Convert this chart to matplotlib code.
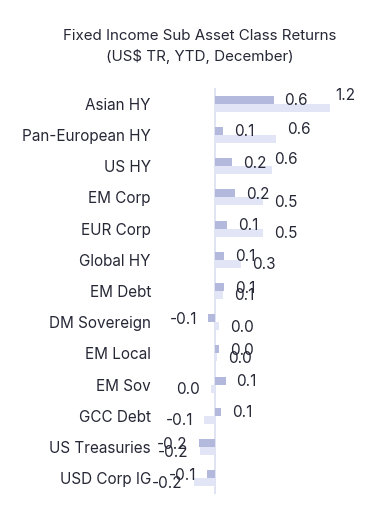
import numpy as np
import matplotlib
matplotlib.use("Agg")
import matplotlib.pyplot as plt

# Data
categories = ["Asian HY", "Pan-European HY", "US HY", "EM Corp", "EUR Corp",
              "Global HY", "EM Debt", "DM Sovereign", "EM Local", "EM Sov",
              "GCC Debt", "US Treasuries", "USD Corp IG"]
returns_dark = [0.61, 0.08, 0.18, 0.21, 0.13, 0.09, 0.09, -0.07, 0.04, 0.11, 0.06, -0.17, -0.08]
returns_light = [1.20, 0.64, 0.59, 0.50, 0.50, 0.27, 0.08, 0.04, 0.02, -0.04, -0.11, -0.16, -0.22]

# label nudges (pixels) for the light series where labels were pushed to avoid overlap
light_nudge = {0: (-6, 13.5), 1: (0, 10), 2: (-9, 11.5)}

dark_color = "#b3b9dd"
light_color = "#e1e5f6"
text_color = "#262836"
font = ["Inter", "DejaVu Sans"]
plt.rcParams["font.family"] = font

W, H = 380, 522
fig = plt.figure(figsize=(W / 100, H / 100), dpi=100)
ax = fig.add_axes([160 / W, 1 - 494 / H, 210 / W, 406 / H])

y = np.arange(len(categories))
bh = 0.256
ax.barh(y - bh / 2, returns_dark, height=bh, color=dark_color)
ax.barh(y + bh / 2, returns_light, height=bh, color=light_color)
ax.axvline(0, color="#dde1f0", lw=1.3, zorder=0)

ax.set_xlim(-55 / 96, 155 / 96)
ax.set_ylim(len(categories) - 0.5, -0.5)
ax.set_yticks(y)
ax.set_yticklabels(categories, fontsize=11, color=text_color)
ax.tick_params(axis="y", length=0, pad=6.5)
ax.set_xticks([])
for s in ax.spines.values():
    s.set_visible(False)


def fmt(v):
    r = round(v, 1)
    return "0.0" if r == 0 else f"{r:.1f}"


def put_label(v, yc, dx=0, dy=0):
    sign = 1 if v >= 0 else -1
    ax.annotate(fmt(v), xy=(v, yc), xytext=((11 * sign + dx) * 0.72, (-1 + dy) * 0.72),
                textcoords="offset points", ha="left" if v >= 0 else "right",
                va="center", fontsize=11, color=text_color)


for i, v in enumerate(returns_dark):
    put_label(v, y[i] - bh / 2)
for i, v in enumerate(returns_light):
    dx, dy = light_nudge.get(i, (0, 0))
    put_label(v, y[i] + bh / 2, dx, dy)

fig.text(200 / W, 1 - 36 / H, "Fixed Income Sub Asset Class Returns", ha="center", va="center",
         fontsize=10.9, color=text_color)
fig.text(200 / W, 1 - 56 / H, "(US$ TR, YTD, December)", ha="center", va="center",
         fontsize=10.9, color=text_color)

fig.savefig("out.png", dpi=100, facecolor="white")
